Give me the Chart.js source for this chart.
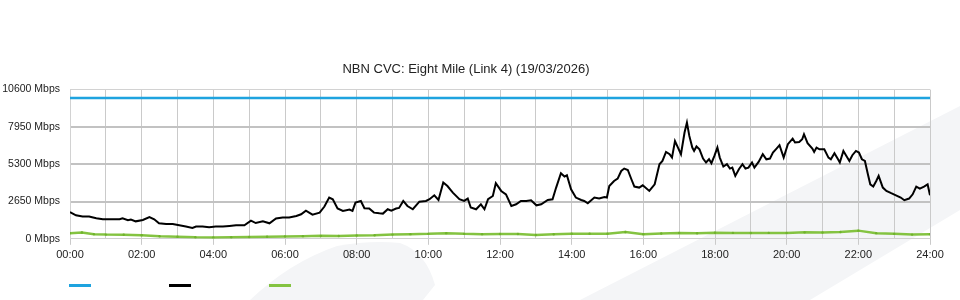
<!DOCTYPE html>
<html>
<head>
<meta charset="utf-8">
<script src="https://cdn.jsdelivr.net/npm/chart.js@4.4.1/dist/chart.umd.min.js"></script>
<style>
  html, body { margin: 0; padding: 0; background: #fff; }
  #wrap { width: 960px; height: 300px; }
</style>
</head>
<body>
<div id="wrap"><canvas id="cvc"></canvas></div>
<script>
// Valores (minutos desde 00:00 / Mbps)
const chartTitle = 'NBN CVC: Eight Mile (Link 4) (19/03/2026)';
const xTickLabels = ['00:00', '02:00', '04:00', '06:00', '08:00', '10:00', '12:00',
  '14:00', '16:00', '18:00', '20:00', '22:00', '24:00'];
const yTickValues = [0, 2650, 5300, 7950, 10600];

const capacityTimes = [0, 1440];
const capacityMbps = [10000, 10000];

const trafficTimes = [
  0, 10, 21, 32, 44, 55, 66, 83, 88, 97, 102, 110, 122, 133, 141, 149, 161, 172, 183, 194,
  205, 211, 222, 233, 244, 256, 267, 278, 292, 303, 311, 323, 334, 345, 356, 367, 379, 387, 395, 406,
  418, 426, 434, 440, 448, 457, 468, 473, 478, 487, 493, 501, 509, 518, 524, 532, 538, 546, 551, 558,
  565, 574, 585, 596, 602, 610, 617, 625, 632, 641, 652, 660, 666, 671, 680, 688, 694, 700, 708, 713,
  722, 730, 739, 747, 755, 764, 772, 781, 789, 800, 808, 814, 822, 828, 832, 839, 847, 856, 861, 867,
  878, 886, 895, 899, 903, 911, 917, 923, 928, 934, 940, 945, 953, 959, 970, 979, 987, 992, 998, 1004,
  1008, 1013, 1018, 1023, 1029, 1033, 1037, 1042, 1045, 1049, 1054, 1060, 1065, 1070, 1074, 1079, 1084, 1088, 1094, 1100,
  1105, 1109, 1114, 1120, 1126, 1131, 1136, 1142, 1146, 1153, 1160, 1166, 1172, 1177, 1183, 1188, 1195, 1202, 1210, 1214,
  1221, 1226, 1229, 1235, 1243, 1246, 1250, 1255, 1263, 1270, 1274, 1280, 1286, 1289, 1295, 1300, 1305, 1310, 1316, 1321,
  1326, 1331, 1336, 1340, 1345, 1350, 1354, 1361, 1367, 1375, 1383, 1391, 1397, 1405, 1411, 1417, 1423, 1430, 1436, 1440
];
const trafficMbps = [
  1900, 1670, 1580, 1580, 1460, 1390, 1390, 1390, 1460, 1320, 1370, 1240, 1340, 1550, 1390, 1100, 1050, 1050, 960, 870,
  770, 870, 870, 820, 870, 870, 910, 960, 960, 1290, 1120, 1240, 1100, 1440, 1510, 1510, 1620, 1740, 2000, 1720,
  1860, 2290, 2930, 2810, 2150, 1980, 2080, 1980, 2570, 2690, 2170, 2150, 1860, 1810, 1790, 2100, 2000, 2150, 2190, 2690,
  2330, 2100, 2640, 2690, 2810, 3090, 2760, 4000, 3750, 3280, 2810, 2690, 2860, 2220, 2100, 2450, 2100, 2810, 3040, 3950,
  3400, 3160, 2330, 2450, 2690, 2690, 2740, 2380, 2450, 2760, 2810, 3640, 4660, 4420, 4510, 3520, 2930, 2760, 2690, 2520,
  2930, 2860, 2970, 2930, 3750, 4110, 4280, 4820, 4990, 4890, 4230, 3710, 3640, 3800, 3400, 3870, 5300, 5530, 6170, 6010,
  5770, 6950, 6480, 6010, 7550, 8260, 7310, 6480, 6240, 6560, 6360, 5700, 5420, 5650, 5370, 5890, 6480, 5770, 5130, 5300,
  4990, 5060, 4470, 4940, 5300, 4990, 5060, 5420, 5060, 5460, 6010, 5650, 5700, 6130, 6410, 6650, 5770, 6720, 7120, 6840,
  6880, 7070, 7430, 6790, 6410, 6170, 6480, 6360, 6360, 5770, 5650, 6080, 5650, 5420, 6240, 5890, 5530, 5940, 6240, 6130,
  5650, 5530, 4590, 3870, 3710, 4110, 4470, 3640, 3400, 3240, 3090, 2930, 2740, 2860, 3160, 3710, 3570, 3710, 3870, 3090
];

const lowTimes = [
  0, 20, 40, 60, 90, 120, 150, 180, 210, 240, 270, 300, 330, 360, 390, 420, 450, 480, 510, 540,
  570, 600, 630, 660, 690, 720, 750, 780, 810, 840, 870, 900, 930, 960, 990, 1020, 1050, 1080, 1110, 1140,
  1170, 1200, 1230, 1260, 1290, 1320, 1350, 1380, 1410, 1440
];
const lowMbps = [
  400, 450, 330, 300, 290, 250, 180, 150, 110, 100, 110, 130, 150, 170, 190, 210, 200, 230, 250, 300,
  330, 350, 400, 350, 330, 340, 340, 270, 320, 360, 360, 360, 480, 330, 380, 420, 390, 430, 420, 410,
  420, 420, 460, 450, 480, 580, 400, 350, 300, 330
];

const toPoints = (times, values) => times.map((t, i) => ({ x: t, y: values[i] }));

const FONT = '"Liberation Sans", Arial, sans-serif';

// Fondo con formas claras
const backgroundShapes = {
  id: 'backgroundShapes',
  beforeDraw(chart) {
    const { ctx, width, height } = chart;
    ctx.save();
    ctx.fillStyle = '#f4f5f7';
    ctx.beginPath();
    ctx.moveTo(580, height);
    ctx.lineTo(width, 106);
    ctx.lineTo(width, 210);
    ctx.lineTo(810, height);
    ctx.closePath();
    ctx.fill();
    ctx.beginPath();
    ctx.moveTo(250, height);
    ctx.quadraticCurveTo(290, 262, 337, 246);
    ctx.quadraticCurveTo(370, 240, 400, 243);
    ctx.quadraticCurveTo(426, 252, 435, 285);
    ctx.lineTo(423, height);
    ctx.closePath();
    ctx.fill();
    ctx.restore();
  }
};

// Leyenda sin texto: solo las lineas de color
const lineLegend = {
  id: 'lineLegend',
  afterDraw(chart) {
    const { ctx } = chart;
    ctx.save();
    ctx.lineWidth = 3;
    chart.data.datasets.forEach((ds, i) => {
      const x = 69 + i * 100;
      ctx.strokeStyle = ds.borderColor;
      ctx.beginPath();
      ctx.moveTo(x, 285.5);
      ctx.lineTo(x + 22, 285.5);
      ctx.stroke();
    });
    ctx.restore();
  }
};

new Chart(document.getElementById('cvc'), {
  type: 'line',
  data: {
    datasets: [
      {
        label: 'Capacity',
        data: toPoints(capacityTimes, capacityMbps),
        borderColor: '#1ea3df',
        borderWidth: 2.5,
        pointRadius: 0
      },
      {
        label: 'Traffic',
        data: toPoints(trafficTimes, trafficMbps),
        borderColor: '#000000',
        borderWidth: 2,
        pointRadius: 0
      },
      {
        label: 'Upload',
        data: toPoints(lowTimes, lowMbps),
        borderColor: '#84c341',
        borderWidth: 2.5,
        pointRadius: 1.2,
        pointBackgroundColor: '#6fb22c',
        pointBorderWidth: 0
      }
    ]
  },
  options: {
    responsive: true,
    maintainAspectRatio: false,
    animation: false,
    layout: { padding: { top: 62, left: 2, right: 30, bottom: 34 } },
    plugins: {
      legend: { display: false },
      tooltip: { enabled: false },
      title: {
        display: true,
        text: chartTitle,
        color: '#222',
        font: { family: FONT, size: 13, weight: 'normal' },
        padding: { top: 0, bottom: 12 }
      }
    },
    scales: {
      x: {
        type: 'linear',
        min: 0,
        max: 1440,
        ticks: {
          stepSize: 60,
          autoSkip: false,
          maxRotation: 0,
          padding: 4,
          color: '#222',
          font: { family: FONT, size: 11 },
          callback: (v) => (v % 120 === 0 ? xTickLabels[v / 120] : '')
        },
        grid: {
          color: '#cacaca',
          lineWidth: 1,
          tickLength: 6,
          tickColor: (c) => (c.tick && c.tick.value % 120 === 0 ? '#cacaca' : 'rgba(0,0,0,0)')
        },
        border: { color: '#cfcfcf' }
      },
      y: {
        min: 0,
        max: 10600,
        afterBuildTicks: (axis) => { axis.ticks = yTickValues.map(v => ({ value: v })); },
        afterFit: (axis) => { axis.width = 68; },
        ticks: {
          padding: 10,
          color: '#222',
          font: { family: FONT, size: 10.5 },
          callback: (v) => v + ' Mbps'
        },
        grid: {
          drawTicks: false,
          color: (c) => (c.index === 0 || c.index === yTickValues.length - 1 ? '#d2d2d2' : '#c2c2c2'),
          lineWidth: (c) => (c.index === 0 || c.index === yTickValues.length - 1 ? 1 : 2)
        },
        border: { color: '#d2d2d2' }
      }
    }
  },
  plugins: [backgroundShapes, lineLegend]
});
</script>
</body>
</html>
